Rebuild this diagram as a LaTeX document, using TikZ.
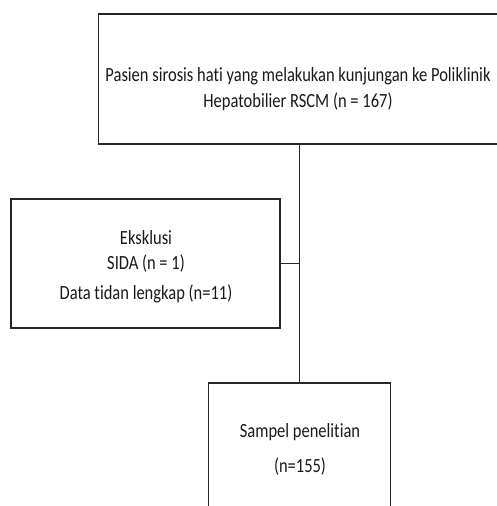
\documentclass[tikz,border=0pt]{standalone}
\usepackage{fontspec}
\setmainfont{Carlito}[Ligatures=NoCommon]
\newcommand{\tallt}[1]{\scalebox{1}[1.22]{#1}}
\begin{document}
\begin{tikzpicture}[x=1pt,y=-1pt,
  box/.style={draw=black!85,line width=1.4pt,inner sep=0pt,fill=none},
  txt/.style={inner sep=0pt,anchor=base,font=\fontsize{16.5}{19}\selectfont,text=black!90},
  conn/.style={draw=black!85,line width=1.4pt}]
\useasboundingbox (0,0) rectangle (497,506);
% boxes
\node[box,minimum width=402pt,minimum height=130pt] (top) at (299.5,79) {};
\node[box,minimum width=269pt,minimum height=129pt] (left) at (145.5,263.5) {};
\node[box,minimum width=182pt,minimum height=140pt] (bot) at (299.5,453) {};
% texts
\node[txt] (t1) at (298,81) {\tallt{Pasien sirosis hati yang melakukan kunjungan ke Poliklinik}};
\node[txt] (t2) at (298,107) {\tallt{Hepatobilier RSCM (n = 167)}};
\node[txt] (l1) at (146,244) {\tallt{Eksklusi}};
\node[txt] (l2) at (146,269) {\tallt{SIDA (n = 1)}};
\node[txt] (l3) at (146,299) {\tallt{Data tidan lengkap (n=11)}};
\node[txt] (b1) at (300,437) {\tallt{Sampel penelitian}};
\node[txt] (b2) at (300,472) {\tallt{(n=155)}};
% connectors
\draw[conn] (top.south) -- (bot.north);
\draw[conn] (left.east) -- (left.east -| top.south);
\end{tikzpicture}
\end{document}
